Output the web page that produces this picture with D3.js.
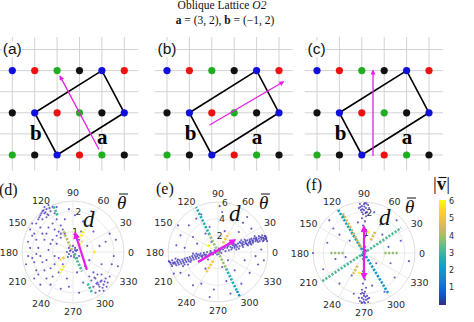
<!DOCTYPE html>
<html><head><meta charset="utf-8">
<script src="https://cdn.jsdelivr.net/npm/d3@7"></script>
<style>body{margin:0;background:#fff} svg{display:block}</style>
</head><body>
<svg id="c" width="474" height="322"></svg>
<script>
// ---------------- DATA ----------------
const latticeCols = [0,1,2,3,4,5];
const latticeRows = [4,2,0];
const latticeColors = [
  ["blue","red","green","black","blue","red"],
  ["black","blue","red","green","black","blue"],
  ["green","black","blue","red","green","black"]
];
const gridCols = [0,1,2,3,4,5];
const gridRows = [0,1,2,3,4,5];
const cellCorners = [[2,0],[5,2],[4,4],[1,2]];
const topLabels = ["(a)","(b)","(c)"];
const topArrowTail = [[3.87,0.26],[1.9,1.42],[2.5,-0.05]];
const topArrowHead = [[2.13,3.74],[5.2,3.47],[2.5,4.0]];

const thetaTicks = [0,30,60,90,120,150,180,210,240,270,300,330];
const polarLabels = ["(d)","(e)","(f)"];
const polarRmax = [2.5, 6, 2.5];
const polarRings = [[1,2],[2,4,6],[1,2]];

// scatter clouds (x, y) in radial units
const dScatter = [
 [-1.5,2.0],[-1.4,1.9],[-1.3,2.1],[-1.2,1.8],[-1.6,1.8],[-1.1,2.0],[-1.4,2.2],[-1.0,2.2],[-1.3,1.7],[-1.7,1.6],[-0.9,1.9],[-1.5,1.6],[-1.2,2.3],[-0.8,2.2],[-1.8,1.4],
 [-1.35,1.95],[-1.45,2.05],[-1.25,1.85],[-1.55,1.9],[-1.15,2.15],[-1.65,1.7],
 [1.2,-1.5],[1.3,-1.7],[1.1,-1.3],[1.4,-1.4],[1.5,-1.6],[1.0,-1.7],[1.6,-1.3],[1.3,-1.9],[1.2,-1.1],[0.9,-1.4],[1.7,-1.5],[1.4,-1.1],[1.1,-2.0],[1.5,-1.9],[0.8,-1.2],[1.8,-1.2],[1.0,-1.0],
 [1.25,-1.6],[1.35,-1.45],[1.45,-1.75],[1.15,-1.55],[1.55,-1.45],[1.05,-1.25],[1.65,-1.7],
 [-0.7,1.0],[-0.6,0.9],[-0.8,0.8],[-0.5,1.1],[-0.9,1.1],[-0.6,0.7],[-0.4,0.9],
 [0.0,0.0],[-0.1,0.1],[0.1,-0.1],[-0.2,-0.1],[0.2,0.1],[-0.1,-0.2],[0.1,0.2],[-0.3,0.0],[0.3,-0.2],[0.0,0.3],[-0.2,0.2],[0.2,-0.3],[-0.25,-0.25],[0.15,0.05],[0.1,0.1],[-0.15,0.05],[0.05,-0.25],
 [-2.2,0.5],[-2.0,-0.3],[-1.9,0.9],[-1.8,-0.9],[-1.7,0.2],[-1.6,1.2],[-1.5,-0.5],[-1.4,0.6],[-1.3,-1.3],[-1.2,0.1],[-1.1,-0.8],[-1.0,1.4],[-0.9,-0.2],[-0.8,0.4],[-2.3,-0.6],[-2.1,1.1],[-1.9,-1.3],[-1.6,-1.6],[-1.3,0.9],[-1.1,-1.6],[-0.7,-1.0],[-0.6,-1.8],[-0.5,-0.6],[-2.0,1.4],[-1.8,-0.1],[-1.0,0.6],[-0.4,1.6],[-0.2,2.1],[0.1,1.8],[-0.3,-1.3],
 [-2.1,0.2],[-2.0,0.8],[-1.9,-0.5],[-1.7,-1.1],[-1.5,0.9],[-1.4,-0.9],[-1.2,1.2],[-1.1,0.4],[-0.9,-0.6],[-0.8,1.6],[-0.7,-0.3],[-2.2,-0.2],[-1.8,0.6],[-1.6,-0.2],[-1.3,-0.4],[-1.0,-1.2],[-0.6,1.3],
 [0.5,1.5],[1.0,1.0],[1.6,0.5],[2.0,-0.2],[1.8,0.9],[0.7,0.3],[0.6,-0.7],[2.2,-0.7],[0.3,-2.0],[1.9,-0.6],[0.4,1.0],[1.3,0.3],[0.9,2.0],[2.1,0.6],[0.2,-1.0],
 [0.3,0.6],[0.8,-0.4],[1.4,-0.6],[0.5,-1.5],[-0.2,-1.7]
];
const eScatter = [
 [0.6,0.3],[0.9,0.1],[1.1,0.5],[1.3,0.2],[1.5,0.6],[1.6,0.3],[1.8,0.8],[2.0,0.5],[2.1,0.9],[2.3,0.6],[2.4,1.0],[2.6,0.7],[2.7,1.1],[2.9,0.8],[3.0,1.2],[3.1,0.9],[3.3,1.3],[3.4,1.0],[3.5,1.4],[3.7,1.1],[3.8,1.5],[3.9,1.2],[4.1,1.4],[4.2,1.1],[4.3,1.6],[4.5,1.3],[4.6,1.7],[4.7,1.4],[4.9,1.6],[5.0,1.3],[5.1,1.8],[5.2,1.5],[5.4,1.7],[5.5,1.4],[5.6,1.9],[5.7,1.6],[5.8,1.5],[5.9,1.3],[2.2,0.3],[3.6,0.8],[4.4,1.9],[5.3,2.0],[2.8,1.4],[1.4,0.9],[4.0,0.9],[3.2,1.5],
 [0.8,0.5],[1.2,0.7],[1.7,0.5],[1.9,1.0],[2.2,0.8],[2.5,0.4],[2.6,1.2],[3.0,0.6],[3.3,1.1],[3.5,0.9],[3.8,1.3],[4.0,1.6],[4.2,1.3],[4.5,1.6],[4.8,1.2],[4.9,1.9],[5.2,1.7],[5.5,1.6],[5.7,1.9],[5.8,1.7],[2.0,0.7],[2.9,1.0],[3.9,1.0],[4.6,1.5],[5.4,1.3],
 [-0.6,-0.3],[-0.9,0.1],[-1.1,-0.4],[-1.3,0.0],[-1.5,-0.5],[-1.7,-0.1],[-1.9,-0.6],[-2.1,-0.2],[-2.3,-0.7],[-2.4,-0.3],[-2.6,-0.8],[-2.8,-0.4],[-2.9,-0.9],[-3.1,-0.5],[-3.2,-1.0],[-3.4,-0.6],[-3.5,-1.1],[-3.7,-0.7],[-3.8,-1.2],[-4.0,-0.8],[-4.1,-1.3],[-4.3,-0.9],[-4.4,-1.4],[-4.6,-1.0],[-4.7,-1.5],[-4.9,-1.1],[-5.0,-1.6],[-5.2,-1.2],[-5.3,-1.4],[-5.5,-1.0],[-5.6,-1.5],[-5.8,-1.2],[-2.0,-1.0],[-3.0,-0.2],[-4.2,-1.7],[-5.1,-0.8],[-1.2,-0.9],[-3.6,-1.5],
 [-0.8,-0.1],[-1.0,-0.2],[-1.4,-0.3],[-1.6,-0.3],[-1.8,-0.4],[-2.0,-0.5],[-2.2,-0.4],[-2.5,-0.5],[-2.7,-0.6],[-3.0,-0.7],[-3.3,-0.8],[-3.6,-0.9],[-3.9,-1.0],[-4.2,-1.1],[-4.5,-1.2],[-4.8,-1.3],[-5.1,-1.4],[-5.4,-1.3],[-5.7,-1.3],[-5.9,-1.1],[-4.0,-1.5],[-4.8,-0.9],[-3.3,-1.2],[-2.6,-0.2],[-5.5,-1.7],
 [0.0,0.0],[0.2,0.1],[-0.2,0.1],[0.1,-0.2],[-0.1,-0.3],[0.3,0.3],[-0.3,-0.1],[0.4,-0.1],[-0.4,0.2],[0.1,0.4],
 [-3.5,3.2],[-2.0,4.5],[-1.0,3.0],[0.5,4.8],[1.8,3.8],[3.0,3.5],[4.0,2.8],[-4.5,2.0],[-3.0,1.8],[-1.5,2.2],[0.8,2.5],[2.5,2.4],[-5.0,0.8],[-4.0,0.5],[-2.5,1.0],[5.2,0.3],[4.5,-0.5],[3.2,-1.0],[2.0,-2.2],[1.0,-3.5],[-0.5,-4.5],[-2.0,-3.8],[-3.5,-2.8],[-4.5,-2.5],[-1.5,-2.0],[0.5,-1.8],[3.8,-2.5],[2.8,-3.8],[-3.0,-4.0],[1.5,-5.0],[-2.6,4.0],[4.8,-1.5],[-5.3,-2.6],[0.2,5.5],[3.5,4.2],[-1.0,-5.4],[5.5,-1.0],[-0.8,1.2],[1.2,-1.0],[-4.8,3.2]
];
const fScatter = [
 [0.0,2.4],[-0.1,2.3],[0.1,2.2],[0.05,2.45],[-0.15,2.1],[0.15,2.0],[-0.05,1.9],[0.2,2.35],[-0.2,2.4],[0.1,1.8],[-0.1,1.7],[0.0,2.1],[0.25,2.2],[-0.25,2.2],[0.05,1.55],[-0.05,1.35],[0.1,2.0],[-0.1,2.0],
 [0.02,2.28],[-0.08,2.15],[0.12,2.42],[-0.18,2.25],[0.08,1.95],
 [0.0,-2.4],[0.1,-2.3],[-0.1,-2.2],[0.05,-2.45],[0.15,-2.1],[-0.15,-2.0],[0.05,-1.9],[-0.2,-2.35],[0.2,-2.4],[-0.1,-1.8],[0.1,-1.7],[0.0,-2.1],[-0.25,-2.2],[0.25,-2.2],[-0.05,-1.5],[0.05,-1.3],[0.0,-2.0],[-0.1,-2.45],
 [-0.02,-2.28],[0.08,-2.15],[-0.12,-2.42],[0.18,-2.25],[-0.08,-1.95],
 [0.0,0.0],[0.1,0.1],[-0.1,-0.1],[0.05,0.3],[-0.05,-0.3],[0.1,-0.2],[-0.1,0.2],[0.0,0.5],[0.0,-0.6],[0.05,0.8],[-0.05,-0.9],[0.05,0.15],[-0.05,-0.12],[0.0,1.1],[0.0,-1.1],
 [-1.5,1.2],[-1.0,1.8],[-1.8,0.5],[-2.0,-0.8],[-1.2,-1.5],[-0.6,-1.1],[1.5,-1.2],[1.0,-1.9],[1.8,0.6],[0.8,1.4],[1.2,0.3],[2.2,-0.4],[-2.5,0.0],[-0.7,0.6],[0.6,-0.5],[-1.4,-0.3],[1.6,1.6],[-1.7,1.6],[0.5,2.0],[-0.5,-2.0],
 [-0.9,-0.2],[0.9,0.9],[1.3,-0.5],[-1.2,0.9],[-0.3,1.5],[0.4,-1.6]
];

// coloured radial dot-lines: angle (deg), r start, r end, |v|
const dSegTheta = [113, 295, 115, 295, 63, 237, 50, 212, 0];
const dSegR0    = [1.95, 1.7, 0.1, 0.1, 0.85, 0.8, 0.45, 0.5, 1.0];
const dSegR1    = [2.5, 2.25, 1.2, 1.05, 1.25, 1.2, 0.7, 0.75, 1.15];
const dSegV     = [3.1, 3.1, 4.3, 3.2, 6.0, 6.0, 5.2, 5.2, 5.8];

const eSegTheta = [116, 296, 296, 116, 296, 60, 240, 146];
const eSegR0    = [2.3, 2.2, 5.2, 0, 0, 1.2, 1.2, 1.2];
const eSegR1    = [6.0, 5.2, 6.0, 2.4, 2.3, 2.6, 2.8, 1.7];
const eSegV     = [2.6, 2.6, 1.6, 3.9, 3.9, 5.2, 5.2, 5.9];

const fSegTheta = [121, 301, 118, 34, 214, 0, 180, 62, 243, 79, 257];
const fSegR0    = [0, 0, 0.3, 0, 0, 1.0, 1.0, 0.7, 0.7, 1.0, 0.95];
const fSegR1    = [2.5, 2.3, 2.2, 2.2, 2.5, 1.65, 1.7, 1.2, 1.15, 1.2, 1.15];
const fSegV     = [2.2, 2.0, 4.5, 3.2, 3.2, 3.9, 3.9, 4.7, 4.7, 6.0, 6.0];

// magenta arrows in polar panels (x,y) radial units
const polarArrowTail = [[0.68,-0.88],[-2.4,-1.2],[0,-1.25]];
const polarArrowHead = [[0.1,0.93],[2.04,1.44],[0,1.3]];

const cbarTicks = [1,2,3,4,5,6];
const cbarMax = 6.1;

// ---------------- DRAW ----------------
const svg = d3.select("#c");
const SERIF = "'Liberation Serif','DejaVu Serif',serif";
const SANS = "'DejaVu Sans',sans-serif";
const MAG = "#e61ee6";
const colorMap = {blue:"#1010dc", red:"#ee1111", green:"#1fae1f", black:"#111111"};
const parula = ["#352a87","#0363e1","#1485d4","#06a7c6","#38b99e","#92bf73","#d9ba56","#fcce2e","#f9fb0e"];
const cscale = d3.scaleLinear().domain(parula.map((c,i)=>i*cbarMax/(parula.length-1))).range(parula).clamp(true);

const defs = svg.append("defs");
function marker(id, w, h, orient){
  defs.append("marker").attr("id",id).attr("viewBox","0 0 10 10").attr("refX",8).attr("refY",5)
    .attr("markerWidth",w).attr("markerHeight",h).attr("markerUnits","userSpaceOnUse").attr("orient",orient)
    .append("path").attr("d","M0,0 L10,5 L0,10 z").attr("fill",MAG);
}
marker("mTop",7,5,"auto");
marker("mPol",8,7,"auto");
marker("mPolS",8,7,"auto-start-reverse");

// Title
const t1 = svg.append("text").attr("x",222).attr("y",8.5).attr("text-anchor","middle")
  .attr("font-family",SERIF).attr("font-size",11.5).attr("fill","#111");
t1.append("tspan").text("Oblique Lattice ");
t1.append("tspan").attr("font-style","italic").text("O2");
const t2 = svg.append("text").attr("x",225).attr("y",24).attr("text-anchor","middle")
  .attr("font-family",SERIF).attr("font-size",11.5).attr("fill","#111");
t2.append("tspan").attr("font-weight","bold").text("a");
t2.append("tspan").text(" = (3, 2), ");
t2.append("tspan").attr("font-weight","bold").text("b");
t2.append("tspan").text(" = (\u22121, 2)");

// Top lattice panels
const topX0 = [12.3, 167, 317];
topX0.forEach((x0, p) => {
  const g = svg.append("g");
  const xs = d3.scaleLinear().domain([0,5]).range([x0, x0+112]);
  const ys = d3.scaleLinear().domain([0,4]).range([155, 70.6]);
  g.selectAll(".v").data(gridCols).join("line")
    .attr("x1",d=>xs(d)).attr("x2",d=>xs(d)).attr("y1",ys(-0.75)).attr("y2",ys(5.6))
    .attr("stroke","#d2d2d2").attr("stroke-width",1);
  g.selectAll(".h").data(gridRows).join("line")
    .attr("y1",d=>ys(d)).attr("y2",d=>ys(d)).attr("x1",xs(-0.55)).attr("x2",xs(5.62))
    .attr("stroke","#d2d2d2").attr("stroke-width",1);
  g.append("path").attr("d", d3.line().x(d=>xs(d[0])).y(d=>ys(d[1])).curve(d3.curveLinearClosed)(cellCorners))
    .attr("fill","none").attr("stroke","#000").attr("stroke-width",1.6).attr("stroke-linejoin","round");
  latticeRows.forEach((r, ri) => {
    g.selectAll(null).data(latticeCols).join("circle")
      .attr("cx",c=>xs(c)).attr("cy",ys(r)).attr("r",3.6)
      .attr("fill",(c,ci)=>colorMap[latticeColors[ri][ci]]);
  });
  g.append("text").attr("x",xs(1.05)).attr("y",ys(0.72)).attr("text-anchor","middle")
    .attr("font-family",SERIF).attr("font-weight","bold").attr("font-size",21).attr("fill","#000").text("b");
  g.append("text").attr("x",xs(4.02)).attr("y",ys(0.52)).attr("text-anchor","middle")
    .attr("font-family",SERIF).attr("font-weight","bold").attr("font-size",21).attr("fill","#000").text("a");
  g.append("line").attr("x1",xs(topArrowTail[p][0])).attr("y1",ys(topArrowTail[p][1]))
    .attr("x2",xs(topArrowHead[p][0])).attr("y2",ys(topArrowHead[p][1]))
    .attr("stroke",MAG).attr("stroke-width",1.3).attr("marker-end","url(#mTop)");
  const lbl = g.append("text").attr("x",x0-9.5).attr("y",54).attr("font-family","'Liberation Sans',Arial,sans-serif")
    .attr("font-size",15.5).attr("fill","#111").text(topLabels[p]);
  const bb = lbl.node().getBBox();
  g.insert("rect","text").attr("x",bb.x-1).attr("y",bb.y+1).attr("width",bb.width+1).attr("height",bb.height-1).attr("fill","#fff");
});

// Polar panels
const polarCfg = [
  {cx:73, cy:252, R:51, scatter:dScatter, st:dSegTheta, s0:dSegR0, s1:dSegR1, sv:dSegV, dbl:false,
   dPos:[83,227], thPos:[117,209], lblPos:[-1,195]},
  {cx:218, cy:252, R:50, scatter:eScatter, st:eSegTheta, s0:eSegR0, s1:eSegR1, sv:eSegV, dbl:false,
   dPos:[229,221], thPos:[259,209], lblPos:[156,194]},
  {cx:364, cy:253, R:51, scatter:fScatter, st:fSegTheta, s0:fSegR0, s1:fSegR1, sv:fSegV, dbl:true,
   dPos:[379,225], thPos:[405,213], lblPos:[306,190]}
];
polarCfg.forEach((c, p) => {
  const g = svg.append("g");
  const rmax = polarRmax[p];
  const rs = d3.scaleLinear().domain([0,rmax]).range([0,c.R]);
  const xs = d3.scaleLinear().domain([-rmax,rmax]).range([c.cx-c.R, c.cx+c.R]);
  const ys = d3.scaleLinear().domain([-rmax,rmax]).range([c.cy+c.R, c.cy-c.R]);
  const P = (t, r) => [c.cx + rs(r)*Math.cos(t*Math.PI/180), c.cy - rs(r)*Math.sin(t*Math.PI/180)];
  g.selectAll(".sp").data(thetaTicks).join("line")
    .attr("x1",c.cx).attr("y1",c.cy).attr("x2",t=>P(t,rmax)[0]).attr("y2",t=>P(t,rmax)[1])
    .attr("stroke","#e4e4e4").attr("stroke-width",0.8);
  const rings = polarRings[p].includes(rmax) ? polarRings[p] : polarRings[p].concat([rmax]);
  g.selectAll(".rg").data(rings).join("circle").attr("cx",c.cx).attr("cy",c.cy).attr("r",d=>rs(d))
    .attr("fill","none").attr("stroke",d=>d===rmax?"#d6d6d6":"#e4e4e4").attr("stroke-width",0.8);
  thetaTicks.forEach(t => {
    const base = c.R + 4;
    const [x, y] = P(t, rmax*base/c.R);
    const tx = g.append("text").attr("x",x).attr("y",y).attr("text-anchor","middle").attr("dominant-baseline","central")
      .attr("font-family",SANS).attr("font-size",9.5).attr("fill","#2a2a2a").text(t);
    const bb = tx.node().getBBox();
    const a = t*Math.PI/180;
    tx.attr("x", x + Math.cos(a)*bb.width/2).attr("y", y - Math.sin(a)*bb.height*0.38);
  });
  polarRings[p].forEach(r => {
    const [x,y] = P(81, r);
    g.append("text").attr("x",x-1).attr("y",y).attr("text-anchor","middle").attr("dominant-baseline","central")
      .attr("font-family",SANS).attr("font-size",9).attr("fill","#2a2a2a").text(r);
  });
  g.selectAll(".pt").data(c.scatter).join("circle")
    .attr("cx",d=>xs(d[0])).attr("cy",d=>ys(d[1])).attr("r",1.05)
    .attr("fill","#3b2fb8").attr("fill-opacity",0.78);
  c.st.forEach((t, i) => {
    const a = P(t, c.s0[i]), b = P(t, c.s1[i]);
    g.append("line").attr("x1",a[0]).attr("y1",a[1]).attr("x2",b[0]).attr("y2",b[1])
      .attr("stroke",cscale(c.sv[i])).attr("stroke-width",2.6).attr("stroke-dasharray","2.2,1.5");
  });
  const ar = g.append("line").attr("x1",xs(polarArrowTail[p][0])).attr("y1",ys(polarArrowTail[p][1]))
    .attr("x2",xs(polarArrowHead[p][0])).attr("y2",ys(polarArrowHead[p][1]))
    .attr("stroke",MAG).attr("stroke-width",2.2).attr("marker-end","url(#mPol)");
  if (c.dbl) ar.attr("marker-start","url(#mPolS)");
  g.append("text").attr("x",c.dPos[0]).attr("y",c.dPos[1]).attr("font-family",SERIF).attr("font-style","italic")
    .attr("font-size",23).attr("fill","#111").text("d");
  g.append("text").attr("x",c.thPos[0]).attr("y",c.thPos[1]).attr("font-family",SERIF).attr("font-style","italic")
    .attr("font-size",19).attr("fill","#111").text("\u03b8");
  g.append("line").attr("x1",c.thPos[0]+2).attr("x2",c.thPos[0]+11).attr("y1",c.thPos[1]-15).attr("y2",c.thPos[1]-15)
    .attr("stroke","#111").attr("stroke-width",1);
  g.append("text").attr("x",c.lblPos[0]).attr("y",c.lblPos[1]).attr("font-family",SERIF)
    .attr("font-size",16).attr("fill","#111").text(polarLabels[p]);
});

// Colorbar
const grad = defs.append("linearGradient").attr("id","cb").attr("x1",0).attr("y1",1).attr("x2",0).attr("y2",0);
parula.forEach((col,i) => grad.append("stop").attr("offset", i/(parula.length-1)).attr("stop-color",col));
const cbY = d3.scaleLinear().domain([0,cbarMax]).range([305,200]);
svg.append("rect").attr("x",439).attr("y",cbY(cbarMax)).attr("width",7).attr("height",cbY(0)-cbY(cbarMax)).attr("fill","url(#cb)");
svg.selectAll(".cbt").data(cbarTicks).join("text").attr("x",449).attr("y",d=>cbY(d)).attr("dominant-baseline","central")
  .attr("font-family",SANS).attr("font-size",8).attr("fill","#2a2a2a").text(d=>d);
const vt = svg.append("text").attr("x",433).attr("y",190).attr("font-family",SERIF).attr("font-size",19).attr("fill","#111");
vt.append("tspan").text("|");
vt.append("tspan").attr("font-weight","bold").text("v");
vt.append("tspan").text("|");
svg.append("line").attr("x1",438.5).attr("x2",446.5).attr("y1",177.5).attr("y2",177.5).attr("stroke","#111").attr("stroke-width",1.1);
</script>
</body></html>
